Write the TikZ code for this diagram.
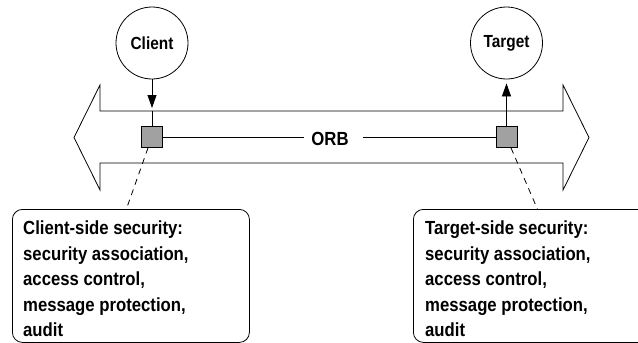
\documentclass[tikz,border=0pt]{standalone}
\usepackage{fontspec}
\newfontfamily\diagfont{Liberation Sans Bold}[FakeStretch=0.88]
\usetikzlibrary{arrows.meta}
\tikzset{
  line/.style={line width=0.8pt},
  actor/.style={circle, draw, line width=0.8pt, minimum size=72pt, inner sep=0pt,
    font=\diagfont\fontsize{17.5}{20}\selectfont},
  port/.style={rectangle, draw, line width=0.8pt, fill=black!37, minimum size=21pt, inner sep=0pt},
  infobox/.style={draw, line width=0.8pt, rounded corners=10pt, minimum width=237pt,
    minimum height=133pt, anchor=north west, inner sep=0pt},
  infotext/.style={anchor=north west, align=left, inner sep=0pt,
    font=\diagfont\fontsize{19}{25.5}\selectfont},
  orblabel/.style={inner xsep=7pt, inner ysep=2pt, font=\diagfont\fontsize{19}{20}\selectfont},
  arrowtip/.style={-{Triangle[length=13pt,width=9pt]}},
  hint/.style={line width=0.8pt, dash pattern=on 6pt off 5pt}
}
\begin{document}
\begin{tikzpicture}[x=1pt,y=-1pt]
\useasboundingbox (0,0) rectangle (638,343);
\clip (0,0) rectangle (638,343);

% ORB band (double arrow)
\draw[line] (100,111) -- (563,111) -- (563,85) -- (589,137.5) -- (563,190) -- (563,163)
  -- (100,163) -- (100,190) -- (74,137.5) -- (100,85) -- cycle;
\coordinate (bandtop) at (100,111);

% actors
\node[actor] (client) at (152,43) {Client};
\node[actor] (target) at (506.5,43) {Target};

% ports
\node[port] (cl) at (152,137) {};
\node[port] (tg) at (506.5,137) {};

% ORB line
\node[orblabel] (orb) at (330,139) {ORB};
\draw[line] (cl.east) -- (orb.west |- cl.east);
\draw[line, shorten <=7pt] (orb.east |- tg.west) -- (tg.west);

% arrows
\draw[line, arrowtip, shorten >=3pt] (client.south) -- (client.south |- bandtop) ;
\draw[line] (client.south |- bandtop) -- (cl.north);
\draw[line, arrowtip, shorten >=4pt] (tg.north) -- (target.south);

% info boxes
\node[infobox] (leftbox) at (12,209) {};
\node[infobox] (rightbox) at (413,209) {};
\node[infotext] (lefttext) at (23,221) {Client-side security:\\security association,\\access control,\\message protection,\\audit};
\node[infotext] (righttext) at (425,221) {Target-side security:\\security association,\\access control,\\message protection,\\audit};

% dashed hints
\draw[hint] ([xshift=-4pt]cl.south) -- ([xshift=-4.5pt]leftbox.north);
\draw[hint] ([xshift=4.5pt]tg.south) -- ([xshift=5.5pt]rightbox.north);
\end{tikzpicture}
\end{document}
